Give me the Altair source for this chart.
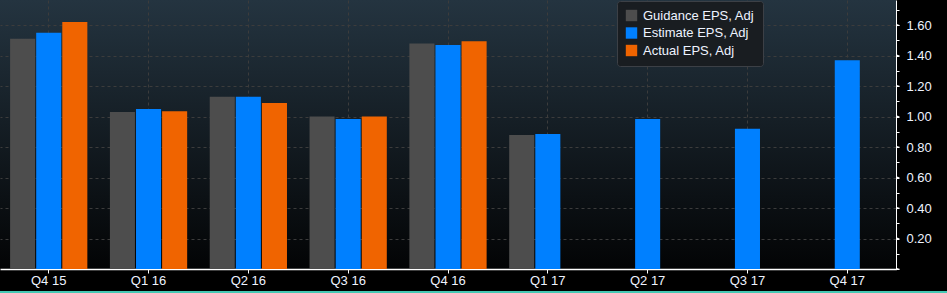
import altair as alt
import pandas as pd

categories = ["Q4 15", "Q1 16", "Q2 16", "Q3 16", "Q4 16", "Q1 17", "Q2 17", "Q3 17", "Q4 17"]
series = ["Guidance EPS, Adj", "Estimate EPS, Adj", "Actual EPS, Adj"]
guidance = [1.51, 1.03, 1.13, 1.00, 1.48, 0.88, None, None, None]
estimate = [1.55, 1.05, 1.13, 0.985, 1.47, 0.885, 0.985, 0.92, 1.37]
actual = [1.62, 1.035, 1.09, 1.00, 1.495, None, None, None, None]
colors = ["#4d4d4d", "#0080ff", "#f06400"]
y_ticks = [round(0.1 * k, 1) for k in range(18)]
y_major = [round(0.2 * k, 1) for k in range(9)]

rows = []
for s, vals in zip(series, [guidance, estimate, actual]):
    for c, v in zip(categories, vals):
        if v is not None:
            rows.append({"cat": c, "series": s, "value": v})
df = pd.DataFrame(rows)
tri_df = pd.DataFrame({"value": y_major})
one = pd.DataFrame({"a": [0]})

FONT = "Liberation Sans"
LABEL = "#eef3ff"

y_axis = alt.Axis(
    orient="right", values=y_ticks, title=None,
    labelExpr="(round(datum.value*10) % 2 == 0 && datum.value > 0) ? format(datum.value, '.2f') : ''",
    domainColor="white", domainWidth=1, tickColor="white", tickSize=3, tickWidth=1,
    labelPadding=7, labelColor=LABEL, labelFont=FONT, labelFontSize=13,
    grid=True, gridColor="#3c3c3c", gridDash=[3, 3], gridWidth=1,
    gridOpacity=alt.ConditionalAxisNumber(condition={"test": "round(datum.value*10) % 2 == 0 && datum.value > 0", "value": 1}, value=0),
)
y_scale = alt.Scale(domain=[0, 1.765], nice=False)

bars = alt.Chart(df).mark_bar().encode(
    x=alt.X("cat:N", sort=categories,
            scale=alt.Scale(paddingInner=0.226, paddingOuter=0.101),
            axis=alt.Axis(title=None, labelAngle=0, bandPosition=0.5,
                          domainColor="white", domainWidth=1.5, tickColor="white",
                          tickSize=4, labelPadding=1, labelColor=LABEL, labelFont=FONT,
                          labelFontSize=13, grid=True, gridColor="#3c3c3c",
                          gridDash=[3, 3], gridWidth=1)),
    xOffset=alt.XOffset("series:N", sort=series, scale=alt.Scale(paddingInner=0.04, paddingOuter=0)),
    y=alt.Y("value:Q", scale=y_scale, axis=y_axis),
    color=alt.Color("series:N", sort=series,
                    scale=alt.Scale(domain=series, range=colors),
                    legend=alt.Legend(title=None, orient="none", legendX=617, legendY=1,
                                      fillColor="#191d21", strokeColor="#3c4046",
                                      cornerRadius=3, padding=8, symbolType="square",
                                      symbolSize=130, symbolStrokeWidth=0, symbolOffset=0,
                                      labelOffset=5, rowPadding=3.5, labelFont=FONT,
                                      labelFontSize=13, labelColor=LABEL)),
)

tris = alt.Chart(tri_df).mark_point(
    shape="M0,-0.32L1,0L0,0.32Z", filled=True, color="white", size=64, opacity=1, strokeWidth=0
).encode(
    x=alt.value(896),
    y=alt.Y("value:Q", scale=y_scale, axis=y_axis),
)

teal = alt.Chart(one).mark_rule(color="#45c8b4", strokeWidth=2).encode(
    x=alt.value(0), x2=alt.value(947), y=alt.value(292)
)

chart = alt.layer(bars, tris, teal).properties(
    width=896, height=269,
    autosize=alt.AutoSizeParams(type="none"),
    padding={"left": 0, "top": 0, "right": 51, "bottom": 24},
    background="black",
).configure_view(
    fill={"expr": "{gradient:'linear',x1:0,y1:0,x2:0,y2:1,stops:[{offset:0,color:'#243440'},{offset:1,color:'#030405'}]}"},
    strokeWidth=0,
)

chart.save("out.html", embed_options={"renderer": "svg", "actions": False})
